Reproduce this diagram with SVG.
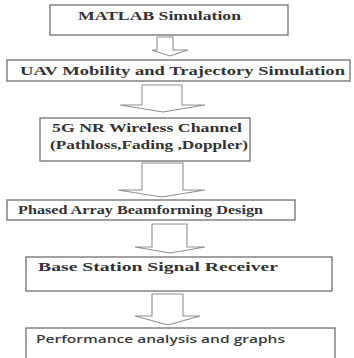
<svg xmlns="http://www.w3.org/2000/svg" width="354" height="358" viewBox="0 0 354 358">
<style>
.box{fill:#fff;stroke:#7a7a7a;stroke-width:1.4}
.arr{fill:#fff;stroke:#8f8f8f;stroke-width:1.1;stroke-linejoin:miter}
.t{font-family:"Liberation Serif","Times New Roman",serif;font-weight:bold;font-size:11.5px;fill:#333}
.s{font-family:"Open Sans","Liberation Sans",sans-serif;font-weight:600;font-size:10.5px;fill:#3a3a3a}
</style>
<rect width="354" height="358" fill="#fff"/>
<g id="connectors">
<polygon class="arr" points="157,37 173,37 173,50 188,50 170,56 152,50 157,50"/>
<polygon class="arr" points="142,85 182,85 182,105 205,105 163,112 120,105 142,105"/>
<polygon class="arr" points="142,163 183,163 183,190 205,190 162,197 118,190 142,190"/>
<polygon class="arr" points="152,224 187,224 187,247 205,247 170,253 135,247 152,247"/>
<polygon class="arr" points="152,294 183,294 183,316 200,316 168,325 135,316 152,316"/>
</g>
<g id="n1">
<rect class="box" x="50" y="5" width="238" height="30"/>
<text class="t" x="78" y="19.5" textLength="163" lengthAdjust="spacingAndGlyphs">MATLAB Simulation</text>
</g>
<g id="n2">
<rect class="box" x="7" y="60" width="343" height="21"/>
<text class="t" x="20" y="75" textLength="325" lengthAdjust="spacingAndGlyphs">UAV Mobility and Trajectory Simulation</text>
</g>
<g id="n3">
<rect class="box" x="40" y="118" width="210" height="43"/>
<text class="t" x="52" y="132" textLength="190" lengthAdjust="spacingAndGlyphs">5G NR Wireless Channel</text>
<text class="t" x="50" y="148.5" textLength="198" lengthAdjust="spacingAndGlyphs">(Pathloss,Fading ,Doppler)</text>
</g>
<g id="n4">
<rect class="box" x="7" y="200" width="288" height="20"/>
<text class="t" x="18" y="214" textLength="245" lengthAdjust="spacingAndGlyphs">Phased Array Beamforming Design</text>
</g>
<g id="n5">
<rect class="box" x="26" y="257" width="306" height="34"/>
<text class="t" x="38" y="271" textLength="240" lengthAdjust="spacingAndGlyphs">Base Station Signal Receiver</text>
</g>
<g id="n6">
<rect class="box" x="26" y="328" width="309" height="40"/>
<text class="s" x="36" y="343" textLength="249" lengthAdjust="spacingAndGlyphs">Performance analysis and graphs</text>
</g>
</svg>
